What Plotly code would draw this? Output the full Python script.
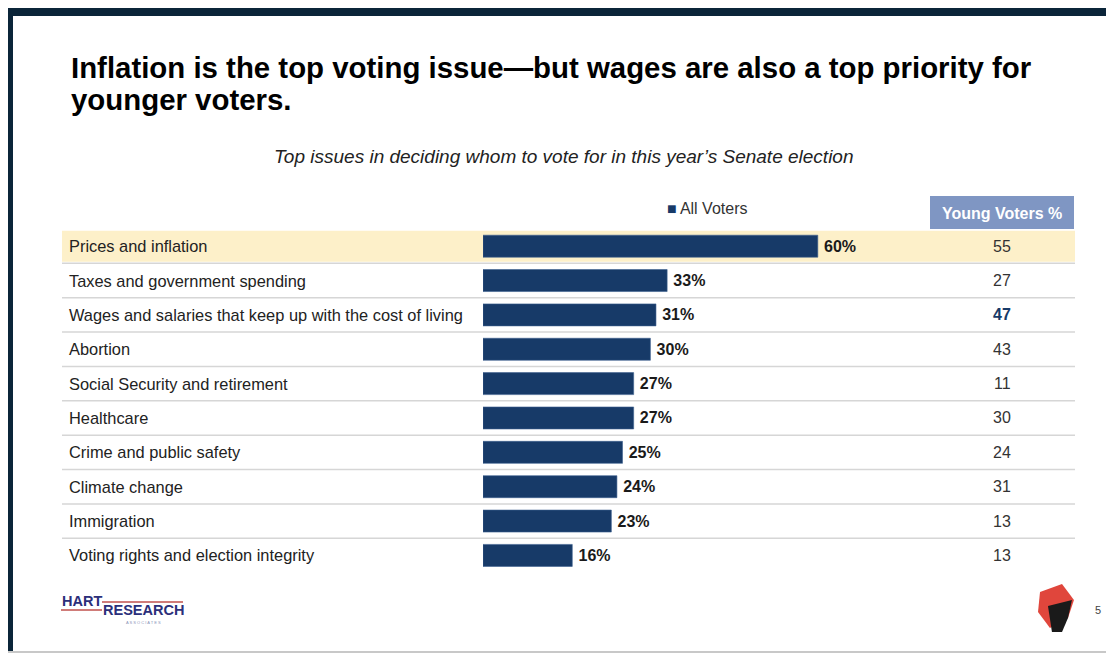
import plotly.graph_objects as go

W, H = 1114, 654
OFF = 8                      # browser body margin
FW, FH = W - OFF, H - OFF    # figure size

title_line1 = "Inflation is the top voting issue\u2014but wages are also a top priority for"
title_line2 = "younger voters."
subtitle_text = "Top issues in deciding whom to vote for in this year\u2019s Senate election"

issues = [
    "Prices and inflation",
    "Taxes and government spending",
    "Wages and salaries that keep up with the cost of living",
    "Abortion",
    "Social Security and retirement",
    "Healthcare",
    "Crime and public safety",
    "Climate change",
    "Immigration",
    "Voting rights and election integrity",
]
all_voters = [60, 33, 31, 30, 27, 27, 25, 24, 23, 16]
young_voters = [55, 27, 47, 43, 11, 30, 24, 31, 13, 13]
highlight_young = [False, False, True, False, False, False, False, False, False, False]

series_name = "All Voters"
young_header = "Young Voters %"
page_number = "5"

NAVY = "#173a68"
FONT = "Liberation Sans, Arial, sans-serif"


def px(x):
    return (x - OFF) / FW


def py(y):
    return 1 - (y - OFF) / FH


fig = go.Figure()
fig.add_trace(go.Bar(
    y=issues, x=all_voters, orientation="h", name=series_name,
    marker=dict(color=NAVY, line=dict(color="#3d5f8f", width=0.6)),
    width=0.64,
    texttemplate="\u2009<b>%{x}%</b>", textposition="outside",
    textfont=dict(family=FONT, size=16, color="#1a1a1a"),
    cliponaxis=False, showlegend=False, hoverinfo="skip",
))

shapes = []
annotations = []

# frame
shapes.append(dict(type="rect", xref="paper", yref="paper", x0=px(5), x1=px(W + 5),
                   y0=py(16), y1=py(7), fillcolor="#0b2539", line=dict(width=0), layer="above"))
shapes.append(dict(type="rect", xref="paper", yref="paper", x0=px(5), x1=px(13),
                   y0=py(651), y1=py(7), fillcolor="#0b2539", line=dict(width=0), layer="above"))
shapes.append(dict(type="line", xref="paper", yref="paper", x0=0, x1=1,
                   y0=py(652), y1=py(652), line=dict(color="#c8c8c8", width=2)))
shapes.append(dict(type="line", xref="paper", yref="paper", x0=px(5), x1=1,
                   y0=py(6.5), y1=py(6.5), line=dict(color="#c9ccd0", width=1)))

# highlight row
shapes.append(dict(type="rect", xref="paper", yref="y", x0=px(62), x1=px(1075),
                   y0=-0.45, y1=0.45, fillcolor="#fdf0c9", line=dict(width=0), layer="below"))

# row separators
for i in range(len(issues) - 1):
    shapes.append(dict(type="line", xref="paper", yref="y", x0=px(62), x1=px(1075),
                       y0=i + 0.5, y1=i + 0.5, line=dict(color="#d6d6d6", width=1.5), layer="below"))

# young voters header box
shapes.append(dict(type="rect", xref="paper", yref="paper", x0=px(930), x1=px(1074),
                   y0=py(229), y1=py(196), fillcolor="#7f96c3", line=dict(width=0)))
annotations.append(dict(text="<b>" + young_header + "</b>", xref="paper", yref="paper",
                        x=px(1002), y=py(213), showarrow=False, xanchor="center", yanchor="middle",
                        font=dict(family=FONT, size=16, color="white")))

# legend (series key)
annotations.append(dict(text='<span style="color:%s">\u25a0</span>\u2009%s' % (NAVY, series_name),
                        xref="paper", yref="paper", x=px(665), y=py(208),
                        showarrow=False, xanchor="left", yanchor="middle",
                        font=dict(family=FONT, size=16, color="#333333")))

# issue labels and young voter values
for name, yv, hl in zip(issues, young_voters, highlight_young):
    annotations.append(dict(text=name, xref="paper", yref="y", x=px(67), y=name,
                            showarrow=False, xanchor="left", yanchor="middle",
                            font=dict(family=FONT, size=16.4, color="#222222")))
    annotations.append(dict(text=("<b>%d</b>" % yv) if hl else str(yv), xref="paper", yref="y",
                            x=px(1002), y=name, showarrow=False, xanchor="center", yanchor="middle",
                            font=dict(family=FONT, size=16, color=NAVY if hl else "#333333")))

# title & subtitle
annotations.append(dict(text="<b>" + title_line1 + "</b>", xref="paper", yref="paper",
                        x=px(69), y=py(68), xanchor="left", yanchor="middle", align="left",
                        showarrow=False, font=dict(family=FONT, size=29.4, color="#000000")))
annotations.append(dict(text="<b>" + title_line2 + "</b>", xref="paper", yref="paper",
                        x=px(69), y=py(100), xanchor="left", yanchor="middle", align="left",
                        showarrow=False, font=dict(family=FONT, size=29.4, color="#000000")))
annotations.append(dict(text="<i>" + subtitle_text + "</i>", xref="paper", yref="paper",
                        x=px(563), y=py(156), xanchor="center", yanchor="middle",
                        showarrow=False, font=dict(family=FONT, size=19, color="#222222")))

# Hart Research logo
annotations.append(dict(text="<b>HART</b>", xref="paper", yref="paper", x=px(60), y=py(601),
                        xanchor="left", yanchor="middle", showarrow=False,
                        font=dict(family=FONT, size=14.5, color="#2b2f7a")))
annotations.append(dict(text="<b>RESEARCH</b>", xref="paper", yref="paper", x=px(101), y=py(610),
                        xanchor="left", yanchor="middle", showarrow=False,
                        font=dict(family=FONT, size=14.5, color="#2b2f7a")))
annotations.append(dict(text="A S S O C I A T E S", xref="paper", yref="paper", x=px(143), y=py(622),
                        xanchor="center", yanchor="middle", showarrow=False,
                        font=dict(family=FONT, size=4, color="#8a93b8")))
shapes.append(dict(type="line", xref="paper", yref="paper", x0=px(61), x1=px(102),
                   y0=py(610), y1=py(610), line=dict(color="#c0504d", width=1.5)))
shapes.append(dict(type="line", xref="paper", yref="paper", x0=px(102), x1=px(183),
                   y0=py(602), y1=py(602), line=dict(color="#c0504d", width=1.5)))


# fist logo (rough)
def path(points):
    return "M " + " L ".join("%.4f,%.4f" % (px(a), py(b)) for a, b in points) + " Z"


shapes.append(dict(type="path", xref="paper", yref="paper",
                   path=path([(1040, 592), (1062, 584), (1074, 600), (1068, 618), (1050, 628), (1038, 612)]),
                   fillcolor="#e0463c", line=dict(width=0)))
shapes.append(dict(type="path", xref="paper", yref="paper",
                   path=path([(1048, 606), (1072, 600), (1068, 618), (1062, 632), (1052, 632)]),
                   fillcolor="#1a1a1a", line=dict(width=0)))
annotations.append(dict(text=page_number, xref="paper", yref="paper", x=px(1098), y=py(610),
                        xanchor="center", yanchor="middle", showarrow=False,
                        font=dict(family=FONT, size=11, color="#444444")))

fig.update_layout(
    width=FW, height=FH, autosize=False,
    margin=dict(l=0, r=0, t=0, b=0),
    paper_bgcolor="white", plot_bgcolor="rgba(0,0,0,0)",
    font=dict(family=FONT),
    xaxis=dict(domain=[px(483), 1], range=[0, (W - 483) / 5.58], visible=False, fixedrange=True),
    yaxis=dict(domain=[py(572.6), py(229)], range=[9.5, -0.5], visible=False, fixedrange=True,
               type="category", categoryorder="array", categoryarray=issues),
    showlegend=False,
    shapes=shapes, annotations=annotations,
)

fig.write_html("out.html")
